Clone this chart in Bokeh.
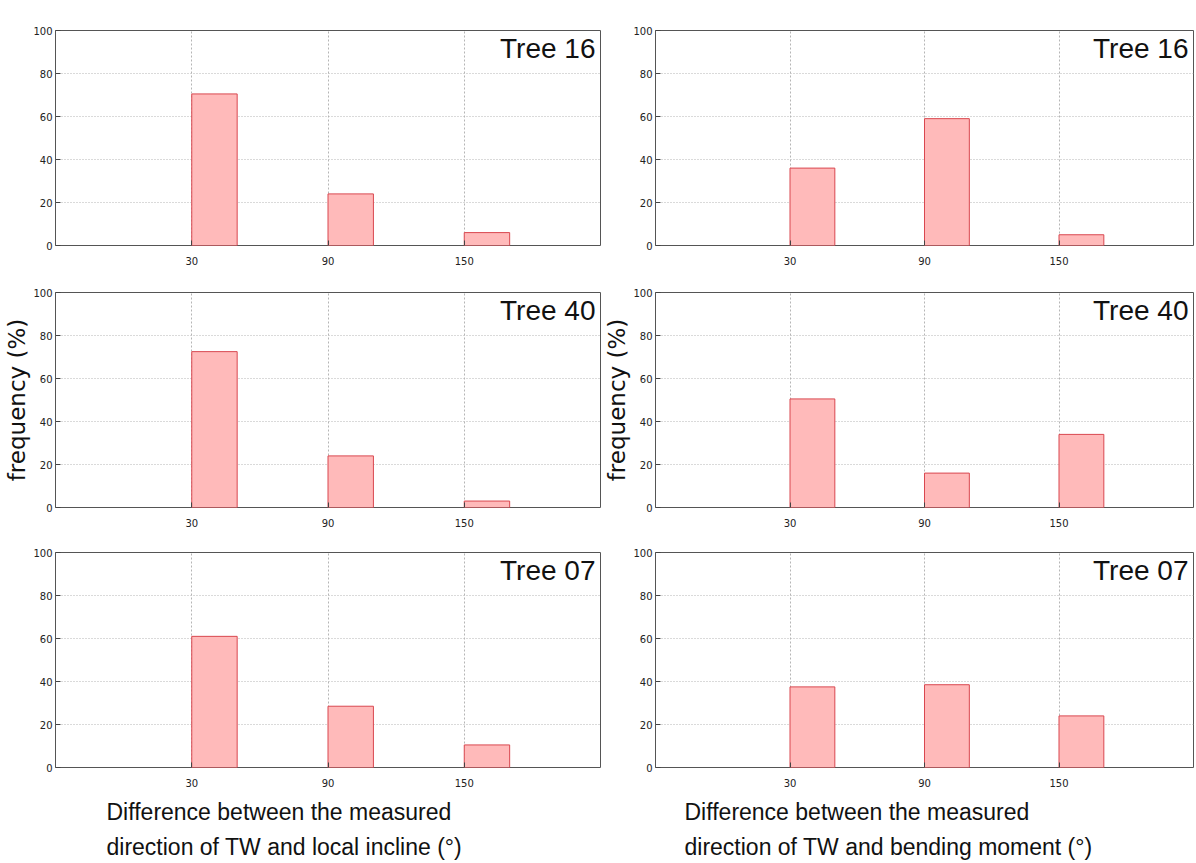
from bokeh.plotting import figure
from bokeh.layouts import row, column
from bokeh.models import Label, Title, FixedTicker
from bokeh.embed import file_html
from bokeh.resources import INLINE

# ---- data ----
angles = [30, 90, 150]            # class start (degrees)
BAR_W = 20                        # class width drawn (degrees)
incline_t16 = [70.5, 24.0, 6.0]
incline_t40 = [72.5, 24.0, 3.0]
incline_t07 = [61.0, 28.5, 10.5]
bending_t16 = [36.0, 59.0, 5.0]
bending_t40 = [50.5, 16.0, 34.0]
bending_t07 = [37.5, 38.5, 24.0]
trees = ["Tree 16", "Tree 40", "Tree 07"]
y_ticks = [0, 20, 40, 60, 80, 100]
y_label = "frequency (%)"
x_label_left = ["Difference between the measured", "direction of TW and local incline (°)"]
x_label_right = ["Difference between the measured", "direction of TW and bending moment (°)"]

BIG = "Liberation Sans"
FRAME_H = 215


def style_axis(ax):
    ax.axis_line_color = None
    ax.major_tick_in = 5
    ax.major_tick_out = 0
    ax.major_tick_line_color = "#444444"
    ax.minor_tick_line_color = None
    ax.major_label_text_font = "DejaVu Sans"
    ax.major_label_text_font_size = "10px"
    ax.major_label_text_color = "#222222"


def panel(vals, tree, width, bl, br, pos, xlab=None, loff=0):
    # pos: 0 top row, 1 middle row, 2 bottom row
    bt = 30 if pos == 0 else 22
    bb = {0: 25, 1: 23, 2: 95}[pos]
    p = figure(width=width, height=bt + FRAME_H + bb,
               x_range=(-30, 210), y_range=(0, 100),
               output_backend="svg", toolbar_location=None,
               min_border_left=bl, min_border_right=br, min_border_top=bt,
               min_border_bottom=bb)
    p.background_fill_color = "white"
    p.border_fill_color = "white"
    p.outline_line_color = "#555555"
    p.outline_line_width = 1
    right = [a + BAR_W for a in angles]
    p.quad(left=angles, right=right, bottom=0, top=vals,
           fill_color="#ffbaba", line_color="#d9474f", line_width=1)
    p.xaxis.ticker = FixedTicker(ticks=angles)
    p.yaxis.ticker = FixedTicker(ticks=y_ticks)
    style_axis(p.xaxis[0])
    style_axis(p.yaxis[0])
    p.yaxis.major_label_standoff = 3
    p.xaxis.major_label_standoff = 11
    p.xgrid.ticker = FixedTicker(ticks=angles)
    p.xgrid.grid_line_color = "#b5b5b5"
    p.xgrid.grid_line_dash = "2 2"
    p.ygrid.grid_line_color = "#b5b5b5"
    p.ygrid.grid_line_dash = "1 2"
    if pos == 1:
        p.yaxis.axis_label = y_label
        p.yaxis.axis_label_text_font = "DejaVu Sans"
        p.yaxis.axis_label_text_font_size = "23px"
        p.yaxis.axis_label_text_font_style = "normal"
        p.yaxis.axis_label_text_color = "#111111"
        p.yaxis.axis_label_standoff = 0
    p.add_layout(Label(x=210, y=100, text=tree, text_align="right",
                       text_baseline="top", x_offset=-5, y_offset=-2,
                       text_font=BIG, text_font_size="28px",
                       text_color="#111111"))
    if xlab is not None:
        for i, line in enumerate(xlab):
            p.add_layout(Title(text=line, align="left", offset=loff,
                               text_font=BIG, text_font_size="23px",
                               text_font_style="normal", text_color="#111111",
                               standoff=14 if i == 0 else 0), "below")
    return p


LW, RW = 601, 595
left = column(
    panel(incline_t16, trees[0], LW, 55, 1, 0),
    panel(incline_t40, trees[1], LW, 55, 1, 1),
    panel(incline_t07, trees[2], LW, 55, 1, 2, xlab=x_label_left, loff=51),
)
rightc = column(
    panel(bending_t16, trees[0], RW, 50, 3, 0),
    panel(bending_t40, trees[1], RW, 50, 3, 1),
    panel(bending_t07, trees[2], RW, 50, 3, 2, xlab=x_label_right, loff=29),
)
layout = row(left, rightc)

open("out.html", "w").write(file_html(layout, INLINE))
